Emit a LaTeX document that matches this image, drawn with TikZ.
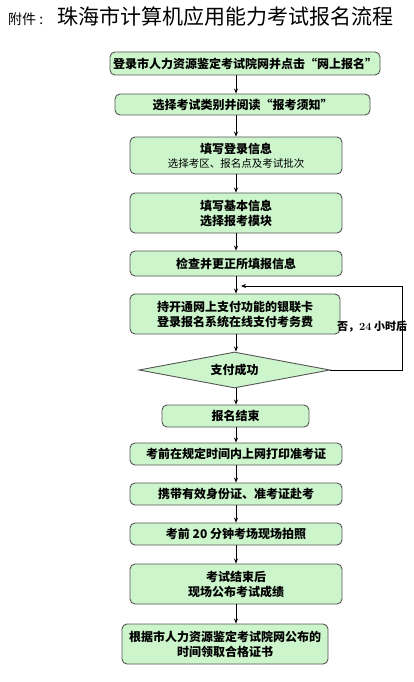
\documentclass[tikz,border=0pt]{standalone}
\usepackage{fontspec}
\newfontfamily\cjk{Noto Sans CJK SC}
\usetikzlibrary{shapes.geometric,arrows.meta}
\definecolor{boxfill}{RGB}{204,245,204}
\definecolor{boxline}{RGB}{85,85,85}
\tikzset{
  stepbox/.style={draw=boxline, line width=0.9pt, fill=boxfill, rounded corners=5pt,
    inner sep=0pt, align=center, font=\cjk\bfseries\fontsize{12}{15}\selectfont},
  decide/.style={draw=boxline, line width=0.9pt, fill=boxfill, diamond, aspect=5.3,
    inner sep=0pt, minimum width=191pt, minimum height=36pt,
    font=\cjk\bfseries\fontsize{12}{15}\selectfont},
  arr/.style={draw=black, line width=0.8pt, -{Stealth[length=5pt,width=4pt]}}
}
\begin{document}
\begin{tikzpicture}[x=1pt,y=-1pt]
\useasboundingbox[fill=white] (0,0) rectangle (414,682);
% title
\node[anchor=west, inner sep=0pt, font=\cjk\fontsize{14}{16}\selectfont] (pre) at (8,19) {附件 :};
\node[anchor=west, inner sep=0pt, font=\cjk\fontsize{21}{24}\selectfont] (title) at (57,17) {珠海市计算机应用能力考试报名流程};
% boxes
\node[stepbox, minimum width=270pt, minimum height=23pt] (b1) at (245,63.5) {登录市人力资源鉴定考试院网并点击“网上报名”};
\node[stepbox, minimum width=255pt, minimum height=21pt] (b2) at (242.5,104.5) {选择考试类别并阅读“报考须知”};
\node[stepbox, minimum width=212pt, minimum height=37pt] (b3) at (236,155.5) {填写登录信息\\[-1pt]{\mdseries\fontsize{10.5}{13}\selectfont 选择考区、报名点及考试批次}};
\node[stepbox, minimum width=212pt, minimum height=40pt] (b4) at (236,213) {填写基本信息\\选择报考模块};
\node[stepbox, minimum width=212pt, minimum height=25pt] (b5) at (236,263.5) {检查并更正所填报信息};
\node[stepbox, minimum width=210pt, minimum height=40pt] (b6) at (235,314) {持开通网上支付功能的银联卡\\登录报名系统在线支付考务费};
\node[decide] (d) at (234.5,370) {支付成功};
\node[stepbox, minimum width=147pt, minimum height=22pt] (b7) at (235.5,416) {报名结束};
\node[stepbox, minimum width=212pt, minimum height=22pt] (b8) at (236,454) {考前在规定时间内上网打印准考证};
\node[stepbox, minimum width=212pt, minimum height=22pt] (b9) at (236,494) {携带有效身份证、准考证赴考};
\node[stepbox, minimum width=212pt, minimum height=22pt] (b10) at (236,534) {考前 20 分钟考场现场拍照};
\node[stepbox, minimum width=212pt, minimum height=40pt] (b11) at (236,584) {考试结束后\\现场公布考试成绩};
\node[stepbox, minimum width=206pt, minimum height=40pt] (b12) at (225,644) {根据市人力资源鉴定考试院网公布的\\时间领取合格证书};
% axis for arrows
\coordinate (ax) at (236,0);
\draw[arr] (b1.south -| ax) -- (b2.north -| ax);
\draw[arr] (b2.south -| ax) -- (b3.north -| ax);
\draw[arr] (b3.south -| ax) -- (b4.north -| ax);
\draw[arr] (b4.south -| ax) -- (b5.north -| ax);
\draw[arr] (b5.south -| ax) -- (b6.north -| ax);
\draw[arr] (b6.south -| ax) -- (d.north -| ax);
\draw[arr] (d.south -| ax) -- (b7.north -| ax);
\draw[arr] (b7.south -| ax) -- (b8.north -| ax);
\draw[arr] (b8.south -| ax) -- (b9.north -| ax);
\draw[arr] (b9.south -| ax) -- (b10.north -| ax);
\draw[arr] (b10.south -| ax) -- (b11.north -| ax);
\draw[arr] (b11.south -| ax) -- (b12.north -| ax);
% loop back
\coordinate (rt) at (402,286);
\coordinate (loopin) at (241,286);
\draw[arr] (d.east) -| (rt) -- (loopin);
\node[anchor=west, inner sep=0pt, font=\cjk\bfseries\fontsize{11}{13}\selectfont] (no) at (337,327) {否，{\rmfamily 24} 小时后};
\end{tikzpicture}
\end{document}
